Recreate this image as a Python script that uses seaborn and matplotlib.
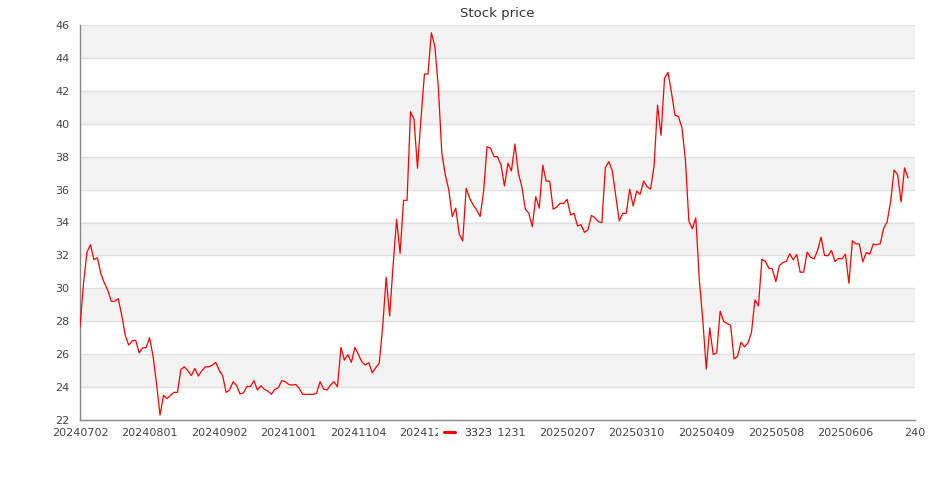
import numpy as np
import pandas as pd
import matplotlib
matplotlib.use('Agg')
import matplotlib.pyplot as plt
from matplotlib.lines import Line2D
import seaborn as sns

# Daily close of 3323 (one value per trading day)
price = [
    27.66, 30.28, 32.20, 32.65, 31.74, 31.86, 30.89, 30.32, 29.88, 29.21,
    29.21, 29.37, 28.36, 27.15, 26.55, 26.80, 26.85, 26.08, 26.38, 26.40,
    27.00, 25.88, 24.20, 22.30, 23.50, 23.30, 23.50, 23.68, 23.68, 25.07,
    25.23, 24.99, 24.70, 25.13, 24.67, 24.99, 25.23, 25.23, 25.33, 25.50,
    25.03, 24.69, 23.68, 23.82, 24.32, 24.10, 23.58, 23.65, 24.04, 24.04,
    24.39, 23.82, 24.08, 23.86, 23.76, 23.56, 23.86, 23.96, 24.39, 24.33,
    24.16, 24.12, 24.16, 23.92, 23.56, 23.56, 23.56, 23.56, 23.62, 24.33,
    23.88, 23.82, 24.12, 24.33, 24.02, 26.41, 25.64, 25.97, 25.50, 26.41,
    25.99, 25.54, 25.34, 25.48, 24.87, 25.18, 25.44, 27.67, 30.67, 28.32,
    31.42, 34.19, 32.13, 35.35, 35.35, 40.73, 40.27, 37.30, 40.30, 43.02,
    43.02, 45.53, 44.68, 42.20, 38.20, 36.89, 35.98, 34.36, 34.87, 33.29,
    32.88, 36.08, 35.47, 35.07, 34.77, 34.36, 35.88, 38.61, 38.51, 38.00,
    38.00, 37.50, 36.22, 37.60, 37.13, 38.77, 36.99, 36.18, 34.81, 34.56,
    33.75, 35.57, 34.87, 37.48, 36.51, 36.51, 34.81, 34.93, 35.17, 35.15,
    35.41, 34.46, 34.56, 33.79, 33.87, 33.40, 33.56, 34.43, 34.29, 34.05,
    33.99, 37.33, 37.70, 37.13, 35.61, 34.09, 34.56, 34.56, 36.02, 35.00,
    35.91, 35.71, 36.52, 36.18, 36.02, 37.44, 41.13, 39.30, 42.75, 43.12,
    41.90, 40.52, 40.44, 39.77, 37.84, 34.09, 33.62, 34.29, 30.54, 28.10,
    25.10, 27.60, 25.98, 26.08, 28.61, 28.00, 27.86, 27.76, 25.71, 25.87,
    26.73, 26.44, 26.69, 27.33, 29.30, 28.93, 31.77, 31.63, 31.22, 31.18,
    30.41, 31.37, 31.57, 31.63, 32.10, 31.73, 32.06, 30.98, 30.98, 32.20,
    31.89, 31.79, 32.30, 33.11, 32.00, 31.98, 32.30, 31.63, 31.81, 31.79,
    32.08, 30.31, 32.89, 32.71, 32.69, 31.61, 32.18, 32.08, 32.69, 32.65,
    32.71, 33.66, 34.05, 35.29, 37.18, 36.91, 35.25, 37.32, 36.71,
]

# category axis labels shown every 20 categories
tick_labels = ['20240702', '20240801', '20240902', '20241001', '20241104',
               '20241202', '20241231', '20250207', '20250310', '20250409',
               '20250508', '20250606', '240']
label_step = 20
n_categories = label_step * (len(tick_labels) - 1) + 1

series_name = '3323'
title = 'Stock price'

sns.set_style('white')
plt.rcParams['font.family'] = ['DejaVu Sans']

fig = plt.figure(figsize=(9.35, 5.0), dpi=100)
ax = fig.add_axes([80 / 935, 80 / 500, 835 / 935, 395 / 500])

df = pd.DataFrame({'day': np.arange(len(price)), 'price': price})
sns.lineplot(data=df, x='day', y='price', color='#ff0000', linewidth=0.9,
             ax=ax, legend=False, zorder=3)

ax.set_xlim(0, n_categories - 1)
ax.set_ylim(22, 46)

# alternating split areas
for lo in range(24, 46, 4):
    ax.axhspan(lo, lo + 2, color='#f3f3f3', lw=0, zorder=0)

ax.set_yticks(np.arange(22, 47, 2))
ax.set_yticks(np.arange(23, 46, 2), minor=True)
ax.grid(axis='y', which='major', color='#e0e0e0', linewidth=1)
ax.set_axisbelow(True)

ax.set_xticks(np.arange(0, n_categories, label_step))
ax.set_xticklabels(tick_labels)

ax.tick_params(axis='y', which='both', direction='out', length=4.5, width=1,
               color='#888888', labelcolor='#444444', labelsize=8, pad=3)
ax.tick_params(axis='x', length=0, pad=6, labelcolor='#444444', labelsize=8)

for side in ['top', 'right']:
    ax.spines[side].set_visible(False)
for side in ['left', 'bottom']:
    ax.spines[side].set_color('#888888')
    ax.spines[side].set_linewidth(1)

ax.set_xlabel('')
ax.set_ylabel('')
ax.set_title(title, fontsize=9.5, color='#333333', pad=6)

handle = Line2D([], [], color='#ff0000', linewidth=2.2)
leg = fig.legend(handles=[handle], labels=[series_name], loc='center',
                 bbox_to_anchor=(468 / 935, 1 - 433 / 500), frameon=True,
                 facecolor='white', edgecolor='none', fancybox=False,
                 framealpha=1, handlelength=1.0, handletextpad=0.8,
                 borderpad=0.5, borderaxespad=0, fontsize=8)
for t in leg.get_texts():
    t.set_color('#333333')

fig.savefig('out.png', dpi=100)
